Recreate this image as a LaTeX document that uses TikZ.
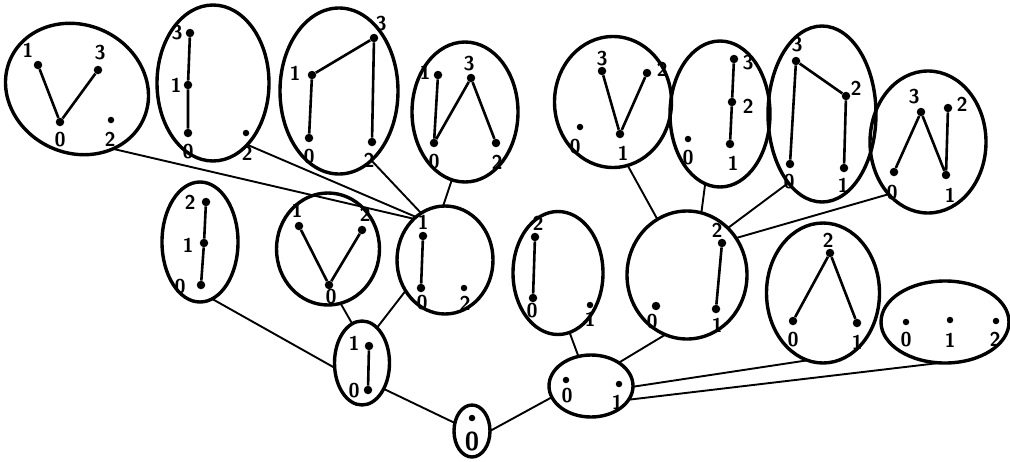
\documentclass[tikz,border=0pt]{standalone}
\usetikzlibrary{shapes.geometric}
\begin{document}
\tikzset{
 blob/.style={ellipse, draw, line width=3.4pt, inner sep=0pt, outer sep=0pt},
 vx/.style={circle, fill, inner sep=0pt, minimum size=8.5pt},
 sv/.style={circle, fill, inner sep=0pt, minimum size=6.5pt},
 lb/.style={font=\sffamily\bfseries\fontsize{20}{20}\selectfont, inner sep=0pt},
 bl/.style={font=\sffamily\bfseries\fontsize{26}{26}\selectfont, inner sep=0pt},
 ed/.style={line width=2.6pt},
 cn/.style={line width=1.9pt},
}
\begin{tikzpicture}[x=1pt,y=-1pt]
\useasboundingbox (0,0) rectangle (1010,461);
% ---- blobs
\node[blob, minimum width=146pt, minimum height=128pt, rotate=-25] (A) at (77,89) {};
\node[blob, minimum width=112pt, minimum height=156pt] (B) at (213,83) {};
\node[blob, minimum width=118pt, minimum height=166pt] (C) at (339,91) {};
\node[blob, minimum width=106pt, minimum height=140pt] (D) at (465,112) {};
\node[blob, minimum width=117pt, minimum height=131pt] (E) at (613,102) {};
\node[blob, minimum width=100pt, minimum height=146pt] (F) at (720,114) {};
\node[blob, minimum width=108pt, minimum height=176pt] (G) at (822,114) {};
\node[blob, minimum width=116pt, minimum height=142pt] (H) at (928,142) {};
\node[blob, minimum width=76pt, minimum height=120pt] (I) at (200,242) {};
\node[blob, minimum width=103pt, minimum height=112pt] (J) at (328,249) {};
\node[blob, minimum width=96pt, minimum height=108pt] (K) at (445,260) {};
\node[blob, minimum width=55pt, minimum height=84pt] (L) at (362,363) {};
\node[blob, minimum width=36pt, minimum height=52pt] (R) at (472,431) {};
\node[blob, minimum width=84pt, minimum height=62pt] (M) at (591,386) {};
\node[blob, minimum width=90pt, minimum height=123pt] (N) at (558,273) {};
\node[blob, minimum width=120pt, minimum height=128pt] (O) at (687,275) {};
\node[blob, minimum width=113pt, minimum height=140pt] (P) at (823,293) {};
\node[blob, minimum width=128pt, minimum height=82pt] (Q) at (945,322) {};
% ---- connectors between blobs
\draw[cn] (A.-34) -- (K.127);
\draw[cn] (B.-61) -- (K.124);
\draw[cn] (C.-65) -- (K.117);
\draw[cn] (D.-101) -- (K.92);
\draw[cn] (K.218) -- (L.67);
\draw[cn] (J.-77) -- (L.104);
\draw[cn] (I.-78) -- (L.190);
\draw[cn] (L.-50) -- (R.155);
\draw[cn] (R.0) -- (M.196);
\draw[cn] (M.113) -- (N.-79);
\draw[cn] (M.40) -- (O.-110);
\draw[cn] (M.-1) -- (P.-103);
\draw[cn] (M.-20) -- (Q.-97);
\draw[cn] (O.118) -- (E.-77);
\draw[cn] (O.77) -- (F.-102);
\draw[cn] (O.49) -- (G.-116);
\draw[cn] (O.37) -- (H.-127);
% ---- A
\node[vx] (a1) at (38,65) {}; \node[lb] (la1) at (28,50) {1};
\node[vx] (a3) at (98,70) {}; \node[lb] (la3) at (100,53) {3};
\node[vx] (a0) at (60,122) {}; \node[lb] (la0) at (60,140) {0};
\node[sv] (a2) at (111,120) {}; \node[lb] (la2) at (110,139) {2};
\draw[ed] (a1) -- (a0) -- (a3);
% ---- B
\node[vx] (b3) at (190,33) {}; \node[lb] (lb3) at (177,33) {3};
\node[vx] (b1) at (188,85) {}; \node[lb] (lb1) at (176,85) {1};
\node[vx] (b0) at (188,133) {}; \node[lb] (lb0) at (188,152) {0};
\node[sv] (b2) at (246,133) {}; \node[lb] (lb2) at (247,153) {2};
\draw[ed] (b3) -- (b1) -- (b0);
% ---- C
\node[vx] (c1) at (312,75) {}; \node[lb] (lc1) at (295,73) {1};
\node[vx] (c3) at (374,38) {}; \node[lb] (lc3) at (381,24) {3};
\node[vx] (c0) at (309,138) {}; \node[lb] (lc0) at (309,157) {0};
\node[vx] (c2) at (372,142) {}; \node[lb] (lc2) at (369,160) {2};
\draw[ed] (c0) -- (c1) -- (c3) -- (c2);
% ---- D
\node[vx] (d1) at (438,75) {}; \node[lb] (ld1) at (425,72) {1};
\node[vx] (d3) at (471,78) {}; \node[lb] (ld3) at (469,64) {3};
\node[vx] (d0) at (434,143) {}; \node[lb] (ld0) at (434,162) {0};
\node[vx] (d2) at (496,143) {}; \node[lb] (ld2) at (497,162) {2};
\draw[ed] (d1) -- (d0) -- (d3) -- (d2);
% ---- E
\node[vx] (e3) at (602,71) {}; \node[lb] (le3) at (602,59) {3};
\node[vx] (e2) at (647,73) {}; \node[lb] (le2) at (662,69) {2};
\node[vx] (e1) at (620,134) {}; \node[lb] (le1) at (623,153) {1};
\node[sv] (e0) at (580,127) {}; \node[lb] (le0) at (575,147) {0};
\draw[ed] (e3) -- (e1) -- (e2);
% ---- F
\node[vx] (f3) at (734,59) {}; \node[lb] (lf3) at (748,63) {3};
\node[vx] (f2) at (732,102) {}; \node[lb] (lf2) at (748,106) {2};
\node[vx] (f1) at (730,144) {}; \node[lb] (lf1) at (733,163) {1};
\node[sv] (f0) at (688,139) {}; \node[lb] (lf0) at (688,158) {0};
\draw[ed] (f3) -- (f2) -- (f1);
% ---- G
\node[vx] (g3) at (796,61) {}; \node[lb] (lg3) at (797,45) {3};
\node[vx] (g2) at (846,96) {}; \node[lb] (lg2) at (856,88) {2};
\node[vx] (g1) at (844,168) {}; \node[lb] (lg1) at (843,185) {1};
\node[vx] (g0) at (790,164) {}; \node[lb] (lg0) at (789,182) {0};
\draw[ed] (g0) -- (g3) -- (g2) -- (g1);
% ---- H
\node[vx] (h3) at (921,112) {}; \node[lb] (lh3) at (914,97) {3};
\node[vx] (h2) at (948,108) {}; \node[lb] (lh2) at (962,104) {2};
\node[vx] (h1) at (946,175) {}; \node[lb] (lh1) at (950,195) {1};
\node[vx] (h0) at (894,172) {}; \node[lb] (lh0) at (892,193) {0};
\draw[ed] (h0) -- (h3) -- (h1) -- (h2);
% ---- I
\node[vx] (i2) at (206,202) {}; \node[lb] (li2) at (190,202) {2};
\node[vx] (i1) at (204,243) {}; \node[lb] (li1) at (188,245) {1};
\node[vx] (i0) at (201,285) {}; \node[lb] (li0) at (180,287) {0};
\draw[ed] (i2) -- (i1) -- (i0);
% ---- J
\node[vx] (j1) at (299,226) {}; \node[lb] (lj1) at (297,210) {1};
\node[vx] (j2) at (362,230) {}; \node[lb] (lj2) at (365,214) {2};
\node[vx] (j0) at (329,285) {}; \node[lb] (lj0) at (331,297) {0};
\draw[ed] (j1) -- (j0) -- (j2);
% ---- K
\node[vx] (k1) at (423,236) {}; \node[lb] (lk1) at (423,222) {1};
\node[vx] (k0) at (421,288) {}; \node[lb] (lk0) at (422,303) {0};
\node[sv] (k2) at (464,288) {}; \node[lb] (lk2) at (465,303) {2};
\draw[ed] (k1) -- (k0);
% ---- L
\node[vx] (l1) at (369,346) {}; \node[lb] (ll1) at (354,343) {1};
\node[vx] (l0) at (368,390) {}; \node[lb] (ll0) at (354,391) {0};
\draw[ed] (l1) -- (l0);
% ---- R
\node[sv] (r0) at (472,418) {}; \node[bl] (lr0) at (472,441) {0};
% ---- M
\node[sv] (m0) at (566,380) {}; \node[lb] (lm0) at (567,396) {0};
\node[sv] (m1) at (619,384) {}; \node[lb] (lm1) at (617,402) {1};
% ---- N
\node[vx] (n2) at (535,237) {}; \node[lb] (ln2) at (538,223) {2};
\node[vx] (n0) at (533,298) {}; \node[lb] (ln0) at (532,311) {0};
\node[sv] (n1) at (590,305) {}; \node[lb] (ln1) at (590,319) {1};
\draw[ed] (n2) -- (n0);
% ---- O
\node[vx] (o2) at (722,243) {}; \node[lb] (lo2) at (717,230) {2};
\node[vx] (o1) at (716,309) {}; \node[lb] (lo1) at (717,325) {1};
\node[vx] (o0) at (656,306) {}; \node[lb] (lo0) at (652,322) {0};
\draw[ed] (o2) -- (o1);
% ---- P
\node[vx] (p2) at (830,253) {}; \node[lb] (lp2) at (828,240) {2};
\node[vx] (p0) at (793,321) {}; \node[lb] (lp0) at (793,340) {0};
\node[vx] (p1) at (857,323) {}; \node[lb] (lp1) at (857,342) {1};
\draw[ed] (p0) -- (p2) -- (p1);
% ---- Q
\node[sv] (q0) at (906,322) {}; \node[lb] (lq0) at (906,340) {0};
\node[sv] (q1) at (950,320) {}; \node[lb] (lq1) at (950,340) {1};
\node[sv] (q2) at (996,321) {}; \node[lb] (lq2) at (995,339) {2};
\end{tikzpicture}
\end{document}
